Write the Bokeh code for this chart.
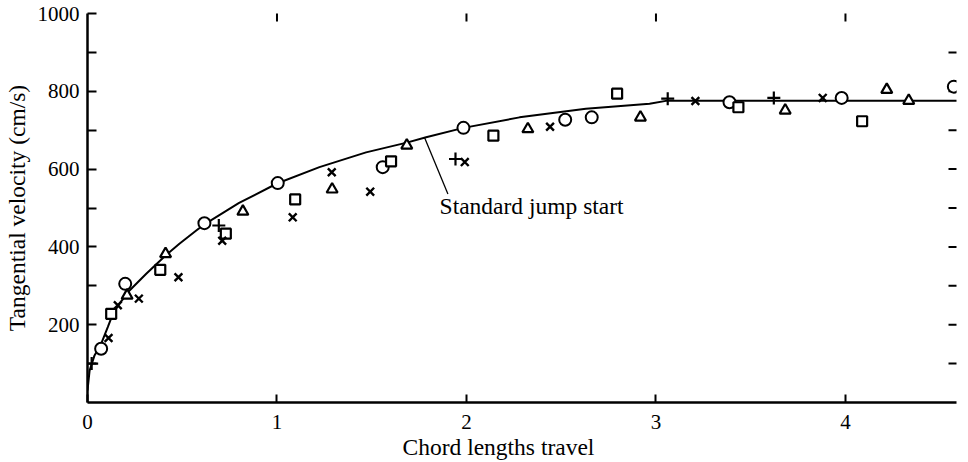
import math
from bokeh.plotting import figure
from bokeh.models import FixedTicker, Range1d, Label, Title
from bokeh.embed import file_html
from bokeh.resources import INLINE

FONT = "Liberation Serif"

# ---- data ----
circle_x = [0.072, 0.199, 0.617, 1.004, 1.558, 1.984, 2.521, 2.661, 3.388, 3.98, 4.572]
circle_y = [138, 305, 461, 564, 605, 706, 727, 733, 772, 783, 812]

square_x = [0.125, 0.384, 0.73, 1.096, 1.602, 2.142, 2.795, 3.435, 4.088]
square_y = [228, 341, 434, 522, 620, 686, 794, 759, 723]

triangle_x = [0.209, 0.412, 0.82, 1.291, 1.685, 2.324, 2.918, 3.682, 4.218, 4.334]
triangle_y = [275, 382, 491, 548, 661, 703, 733, 751, 804, 776]

xmark_x = [0.111, 0.16, 0.271, 0.48, 0.711, 1.083, 1.289, 1.492, 1.991, 2.441, 3.208, 3.88]
xmark_y = [166, 250, 267, 322, 416, 476, 592, 542, 618, 709, 775, 783]

plus_x = [0.022, 0.693, 1.942, 3.062, 3.622]
plus_y = [100, 455, 626, 781, 783]

curve_x = [0, 0.011, 0.037, 0.072, 0.107, 0.134, 0.169, 0.222, 0.31, 0.412, 0.485,
           0.574, 0.617, 0.8, 1.0, 1.224, 1.47, 1.685, 1.787, 1.984, 2.28, 2.63,
           2.966, 3.06, 3.3, 4.59]
curve_y = [31, 82, 121, 151, 194, 228, 254, 288, 331, 378, 408,
           442, 458, 513, 563, 605, 643, 668, 682, 706, 733, 755,
           768, 776, 776, 776]

x_ticks = [0, 1, 2, 3, 4]
y_major_ticks = [200, 400, 600, 800, 1000]
y_minor_ticks = [100, 300, 500, 700, 900]
top_ticks = [1, 2, 3, 4]
right_ticks = [100, 200, 300, 400, 500, 600, 700, 800, 900]

X_MAX = 4.586
Y_MAX = 1000

note_text = "Standard jump start"
note_pos = (1.858, 506)
pointer = ([1.778], [682], [1.902], [536])

x_label = "Chord lengths travel"
y_label = "Tangential velocity (cm/s)"

p = figure(frame_width=869, frame_height=389,
           x_range=Range1d(0, X_MAX), y_range=Range1d(0, Y_MAX),
           output_backend="svg", toolbar_location=None,
           min_border_left=80, min_border_right=4, min_border_top=13,
           min_border_bottom=4)
p.xgrid.visible = False
p.ygrid.visible = False
p.outline_line_color = None
p.background_fill_color = "white"
p.border_fill_color = "white"

xa = p.xaxis[0]
xa.ticker = FixedTicker(ticks=x_ticks)
xa.major_tick_in = 8
xa.major_tick_out = 0
xa.major_tick_line_width = 2
xa.minor_tick_line_color = None
xa.axis_line_width = 2.5
xa.axis_line_color = "black"
xa.major_label_text_font = FONT
xa.major_label_text_font_size = "21px"
xa.major_label_text_color = "black"
xa.major_label_standoff = 12

ya = p.yaxis[0]
ya.ticker = FixedTicker(ticks=y_major_ticks, minor_ticks=y_minor_ticks)
ya.major_tick_in = 9
ya.major_tick_out = 0
ya.minor_tick_in = 9
ya.minor_tick_out = 0
ya.major_tick_line_width = 2
ya.minor_tick_line_width = 2
ya.minor_tick_line_color = "black"
ya.axis_line_width = 2.5
ya.axis_line_color = "black"
ya.major_label_text_font = FONT
ya.major_label_text_font_size = "21px"
ya.major_label_text_color = "black"
ya.major_label_standoff = 8
ya.axis_label = y_label
ya.axis_label_text_font = FONT
ya.axis_label_text_font_size = "23.5px"
ya.axis_label_text_font_style = "normal"
ya.axis_label_text_color = "black"
ya.axis_label_standoff = 5

# x-axis title placed below, shifted left of centre as in the reference
p.add_layout(Title(text=x_label, align="left", offset=315, text_font=FONT,
                   text_font_size="23.5px", text_font_style="normal",
                   text_color="black", standoff=1), "below")

# inward tick marks along the top and right edges (half of each dash is clipped by the frame)
p.scatter(top_ticks, [Y_MAX] * len(top_ticks), marker="dash", angle=math.pi / 2,
          size=16, line_color="black", line_width=2)
p.scatter([X_MAX] * len(right_ticks), right_ticks, marker="dash",
          size=16, line_color="black", line_width=2)

p.line(curve_x, curve_y, line_color="black", line_width=2)
p.segment(x0=pointer[0], y0=pointer[1], x1=pointer[2], y1=pointer[3],
          line_color="black", line_width=1.3)

p.scatter(circle_x, circle_y, marker="circle", size=12, line_color="black",
          line_width=2, fill_color="white")
p.scatter(square_x, square_y, marker="square", size=10, line_color="black",
          line_width=2.2, fill_color="white")
p.scatter(triangle_x, triangle_y, marker="triangle", size=11, line_color="black",
          line_width=2.2, fill_color="white")
p.scatter(xmark_x, xmark_y, marker="x", size=11, line_color="black", line_width=2.4)
p.scatter(plus_x, plus_y, marker="cross", size=13, line_color="black", line_width=2.2)

p.add_layout(Label(x=note_pos[0], y=note_pos[1], text=note_text, text_font=FONT,
                   text_font_size="23.5px", text_align="left", text_baseline="middle",
                   text_color="black"))

open("out.html", "w").write(file_html(p, INLINE))
